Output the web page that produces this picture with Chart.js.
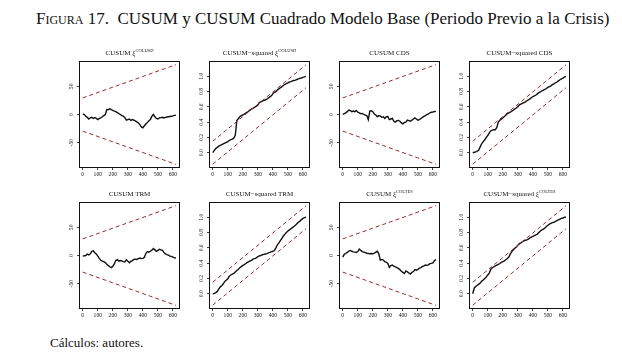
<!DOCTYPE html>
<html><head><meta charset="utf-8">
<script src="https://cdn.jsdelivr.net/npm/chart.js@4/dist/chart.umd.min.js"></script>
<style>
html,body{margin:0;padding:0;background:#fff;}
body{width:622px;height:356px;position:relative;overflow:hidden;font-family:"Liberation Serif","DejaVu Serif",serif;color:#111;}
#title{position:absolute;left:36px;top:9px;font-size:17px;line-height:20px;white-space:nowrap;}
.sc{font-variant:small-caps;}
#caption{position:absolute;left:50px;top:335px;font-size:13px;line-height:16px;white-space:nowrap;}
.ptitle{position:absolute;width:160px;text-align:center;font-size:7px;line-height:8px;white-space:nowrap;}
.ptitle sup{font-size:4.5px;vertical-align:3px;line-height:0;}
canvas{position:absolute;}
</style></head>
<body>
<div id="title"><span class="sc">Figura</span> 17.&nbsp; CUSUM y CUSUM Cuadrado Modelo Base (Periodo Previo a la Crisis)</div>
<div id="caption">Cálculos: autores.</div>
<script>
// ---------- data ----------
const OBS = [0,10,20,30,40,50,60,70,80,90,100,110,120,130,140,150,160,170,180,190,200,210,220,230,240,250,260,270,280,290,300,310,320,330,340,350,360,370,380,390,400,410,420,430,440,450,460,470,480,490,500,510,520,530,540,550,560,570,580,590,600,610,620];
const X_TICKS = [0,100,200,300,400,500,600];
const BOUND_X = [0,620];
const CUSUM_UPPER = [29.5,88.5];
const CUSUM_LOWER = [-29.5,-88.5];
const SQ_UPPER = [0.15,1.15];
const SQ_LOWER = [-0.15,0.85];
const CUSUM_Y_TICKS = [-50,0,50];
const CUSUM_Y_LABELS = ['-50','0','50'];
const SQ_Y_TICKS = [0,0.2,0.4,0.6,0.8,1.0];
const SQ_Y_LABELS = ['0.0','0.2','0.4','0.6','0.8','1.0'];

const CUSUM_COLUSD = [1,0,-3,-5,-8,-6,-5,-7,-5.5,-7,
  -9,-7,-6,-4,-2,0,9,8.5,10,8.5,
  7.5,6,5,3.5,1.5,0,-2,-3,-5.5,-10,
  -9,-8,-10.5,-9,-10,-11.5,-13,-15,-18,-22,
  -23.5,-20,-17,-14,-11,-9,-3,0,-4,-7,
  -8,-6,-5.5,-5,-6,-5,-4.5,-4,-3.5,-3,
  -2.5,-1.5,-1];
const SQ_COLUSD = [0,0.03,0.055,0.07,0.085,0.095,0.105,0.115,0.125,0.135,
  0.145,0.16,0.17,0.178,0.19,0.23,0.42,0.445,0.47,0.485,
  0.495,0.505,0.52,0.53,0.545,0.56,0.575,0.585,0.595,0.61,
  0.625,0.655,0.665,0.675,0.685,0.69,0.70,0.715,0.73,0.745,
  0.77,0.79,0.80,0.82,0.835,0.85,0.865,0.88,0.895,0.905,
  0.915,0.925,0.93,0.94,0.945,0.95,0.958,0.965,0.972,0.978,
  0.985,0.992,1.0];
const CUSUM_CDS = [0,1.5,3,5,8,7,5,6,5,7,
  4,3,1.5,2,0,-1,-2,-9,6,6.5,
  5,1,-1,-4,-2,-3,-5,-4,-7,-4,
  -3.5,-9,-8,-7,-12,-13.5,-11,-10.5,-12,-15,
  -16.5,-14,-13.5,-10,-11,-12,-10,-8,-6,-8,
  -10,-9,-7,-5,-3.5,-2,0,1,3,4,
  4.5,5.5,5];
const SQ_CDS = [0,0.006,0.012,0.02,0.035,0.08,0.12,0.145,0.17,0.2,
  0.225,0.26,0.285,0.295,0.30,0.30,0.33,0.40,0.425,0.44,
  0.455,0.475,0.49,0.51,0.52,0.53,0.545,0.555,0.575,0.585,
  0.605,0.625,0.635,0.645,0.655,0.665,0.68,0.69,0.705,0.72,
  0.735,0.745,0.755,0.77,0.785,0.795,0.81,0.82,0.83,0.84,
  0.855,0.865,0.875,0.89,0.90,0.915,0.925,0.94,0.955,0.965,
  0.975,0.99,1.0];
const CUSUM_TRM = [-1,-0.5,0,2.5,1,3,7.5,8.5,5,2.5,
  -1,-5,-8.5,-10,-11,-12.5,-15.5,-18,-20,-21.5,
  -19,-15,-9,-7.5,-10,-9,-9.5,-11,-11.5,-7.5,
  -10,-13,-10.5,-9,-7,-6.5,-7,-5.5,-4.5,-5.5,
  -5,-3,4,7,6,7.5,9.5,12.5,10,7.5,
  9,11,10,9,5.5,3,1.5,0.5,-1,-1.5,
  -3,-4,-4.5];
const SQ_TRM = [0,0.005,0.015,0.03,0.06,0.09,0.105,0.13,0.16,0.175,
  0.195,0.23,0.245,0.255,0.265,0.285,0.305,0.32,0.34,0.355,
  0.37,0.38,0.395,0.41,0.42,0.43,0.44,0.455,0.46,0.47,
  0.485,0.495,0.5,0.51,0.515,0.52,0.525,0.535,0.54,0.55,
  0.555,0.565,0.6,0.64,0.665,0.695,0.725,0.755,0.78,0.8,
  0.82,0.835,0.85,0.865,0.88,0.895,0.915,0.935,0.95,0.97,
  0.985,0.995,1.0];
const CUSUM_COLTES = [-3,2,3.5,5.5,8,9,7.5,6.5,6,5.5,
  7,11.5,9,7,6,5,4,3.5,3,3.5,
  3,4,6,7.5,3,-8.5,-7,-8,-11,-12,
  -14,-21,-18,-17,-19,-20,-21.5,-23,-25,-28,
  -30,-32,-27.5,-29,-31,-33,-30,-28.5,-25,-26,
  -24.5,-22.5,-21.5,-19.5,-18.5,-17,-17.5,-16.5,-14.5,-14,
  -13,-9,-7.5];
const SQ_COLTES = [0,0.075,0.095,0.11,0.125,0.14,0.165,0.18,0.2,0.22,
  0.245,0.27,0.32,0.34,0.35,0.365,0.375,0.385,0.395,0.41,
  0.42,0.43,0.445,0.46,0.48,0.52,0.55,0.575,0.595,0.61,
  0.635,0.655,0.665,0.68,0.69,0.7,0.705,0.715,0.73,0.74,
  0.75,0.76,0.77,0.78,0.8,0.82,0.835,0.845,0.86,0.88,
  0.895,0.91,0.92,0.93,0.935,0.945,0.955,0.965,0.975,0.985,
  0.99,1.0,1.0];

const PANEL_TITLES = [
  'CUSUM ξ<sup>COLUSD</sup>', 'CUSUM−squared ξ<sup>COLUSD</sup>', 'CUSUM CDS', 'CUSUM−squared CDS',
  'CUSUM TRM', 'CUSUM−squared TRM', 'CUSUM ξ<sup>COLTES</sup>', 'CUSUM−squared ξ<sup>COLTES</sup>'
];
const PANEL_SERIES = [CUSUM_COLUSD, SQ_COLUSD, CUSUM_CDS, SQ_CDS, CUSUM_TRM, SQ_TRM, CUSUM_COLTES, SQ_COLTES];
const PANEL_KIND = ['cusum','sq','cusum','sq','cusum','sq','cusum','sq'];

// ---------- layout / style ----------
const BOX_LEFT = [79,209,339,469];
const BOX_TOP = [61,202];
const BOX_W = 101, BOX_H = 107;
const AX_W = 20, AX_H = 14, PAD_T = 6, PAD_R = 4;
const RED = '#9a2b2b';
const INK = '#111';
const TICK_FONT = {family:'"Liberation Serif", serif', size:5.6};

const boxPlugin = {
  id:'box',
  afterDraw(chart){
    const {ctx, chartArea:a} = chart;
    ctx.save();
    ctx.strokeStyle = INK; ctx.lineWidth = 1;
    ctx.strokeRect(Math.round(a.left)+0.5, Math.round(a.top)+0.5, Math.round(a.right)-Math.round(a.left)-1, Math.round(a.bottom)-Math.round(a.top)-1);
    ctx.restore();
  }
};

function makePanel(i){
  const col = i % 4, row = Math.floor(i/4);
  const bl = BOX_LEFT[col], bt = BOX_TOP[row];
  const cv = document.createElement('canvas');
  const W = AX_W + BOX_W + PAD_R, H = PAD_T + BOX_H + AX_H;
  cv.width = W; cv.height = H;
  cv.style.left = (bl - AX_W) + 'px'; cv.style.top = (bt - PAD_T) + 'px';
  cv.style.width = W + 'px'; cv.style.height = H + 'px';
  document.body.appendChild(cv);

  const t = document.createElement('div');
  t.className = 'ptitle';
  t.innerHTML = PANEL_TITLES[i];
  t.style.left = (bl + BOX_W/2 - 80) + 'px';
  t.style.top = (bt - 12) + 'px';
  document.body.appendChild(t);

  const sq = PANEL_KIND[i] === 'sq';
  const series = PANEL_SERIES[i];
  const up = sq ? SQ_UPPER : CUSUM_UPPER, lo = sq ? SQ_LOWER : CUSUM_LOWER;
  const yt = sq ? SQ_Y_TICKS : CUSUM_Y_TICKS, yl = sq ? SQ_Y_LABELS : CUSUM_Y_LABELS;

  new Chart(cv, {
    type:'line',
    data:{datasets:[
      {data: OBS.map((x,k)=>({x, y:series[k]})), borderColor:INK, borderWidth:1.4, pointRadius:0, tension:0, order:1},
      {data: BOUND_X.map((x,k)=>({x, y:up[k]})), borderColor:RED, borderWidth:1, borderDash:[4,3], pointRadius:0, order:0},
      {data: BOUND_X.map((x,k)=>({x, y:lo[k]})), borderColor:RED, borderWidth:1, borderDash:[4,3], pointRadius:0, order:0}
    ]},
    options:{
      responsive:false, animation:false, devicePixelRatio:1,
      layout:{padding:{top:PAD_T, right:PAD_R, bottom:0, left:0}},
      plugins:{legend:{display:false}, tooltip:{enabled:false}, title:{display:false}},
      scales:{
        x:{type:'linear', min:-25, max:647,
          afterBuildTicks:s=>{s.ticks = X_TICKS.map(v=>({value:v}));},
          ticks:{font:TICK_FONT, color:INK, padding:1, maxRotation:0, minRotation:0, autoSkip:false, callback:v=>String(v)},
          grid:{drawOnChartArea:false, drawTicks:true, tickLength:2, color:INK, lineWidth:0.8},
          border:{display:false},
          afterFit:s=>{s.height = AX_H;}
        },
        y:{type:'linear', min: sq ? -0.2 : -95, max: sq ? 1.2 : 95,
          afterBuildTicks:s=>{s.ticks = yt.map(v=>({value:v}));},
          ticks:{font:TICK_FONT, color:INK, padding:1.5, minRotation:90, maxRotation:90, crossAlign:'center', autoSkip:false,
            callback:(v)=>{const k = yt.indexOf(v); return k>=0 ? yl[k] : '';}},
          grid:{drawOnChartArea:false, drawTicks:true, tickLength:2, color:INK, lineWidth:0.8},
          border:{display:false},
          afterFit:s=>{s.width = AX_W;}
        }
      }
    },
    plugins:[boxPlugin]
  });
}
for (let i=0;i<8;i++) makePanel(i);
</script>
</body></html>
